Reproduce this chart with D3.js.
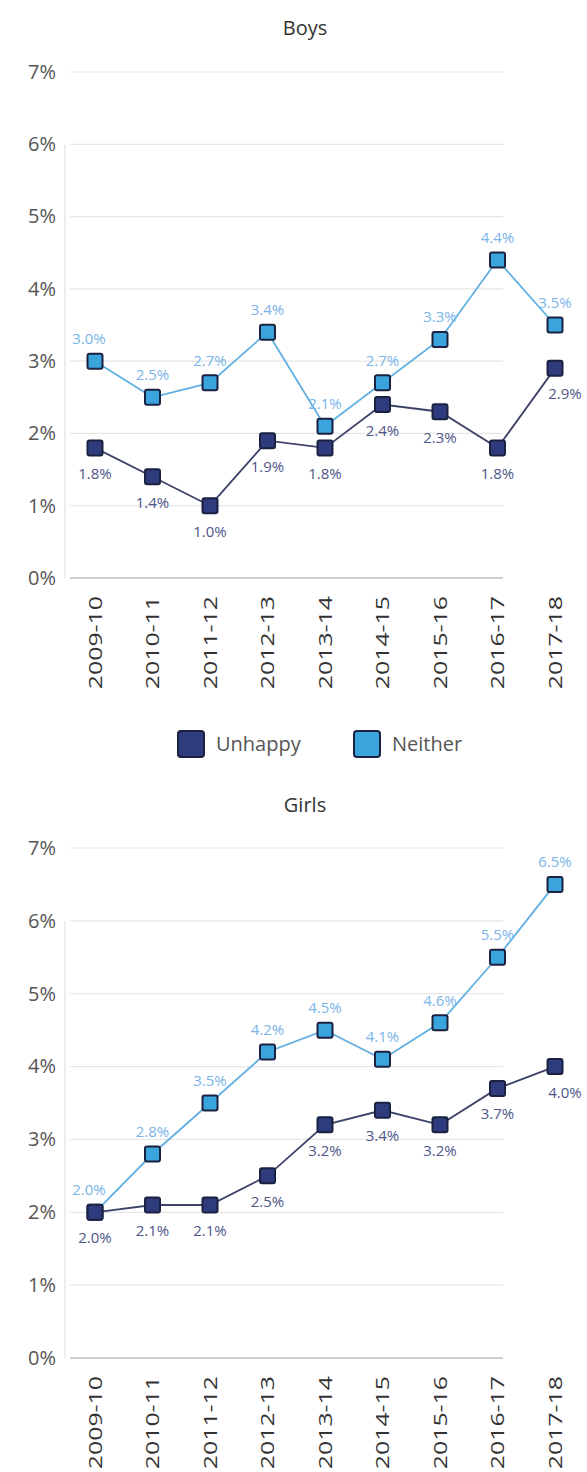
<!DOCTYPE html>
<html>
<head>
<meta charset="utf-8">
<script src="https://cdn.jsdelivr.net/npm/d3@7"></script>
<style>
  body { margin: 0; background: #fff; }
  text { font-family: "Open Sans", Lato, sans-serif; }
</style>
</head>
<body>
<div class="svg"></div>
<script>
const years = ["2009-10","2010-11","2011-12","2012-13","2013-14","2014-15","2015-16","2016-17","2017-18"];
const yTicks = [0,1,2,3,4,5,6,7];
const boysUnhappy = [1.8,1.4,1.0,1.9,1.8,2.4,2.3,1.8,2.9];
const boysNeither = [3.0,2.5,2.7,3.4,2.1,2.7,3.3,4.4,3.5];
const girlsUnhappy = [2.0,2.1,2.1,2.5,3.2,3.4,3.2,3.7,4.0];
const girlsNeither = [2.0,2.8,3.5,4.2,4.5,4.1,4.6,5.5,6.5];
const seriesNames = ["Unhappy","Neither"];

const w = 587;
const h = 1472;
const unhappyFill = "#2e3b7c";
const neitherFill = "#3aa5dc";
const unhappyLine = "#3d4268";
const neitherLine = "#62b0e2";
const unhappyText = "#4e5688";
const neitherText = "#7ab4e8";
const font = "'Open Sans', sans-serif";

let svg = d3.select(".svg").append("svg")
  .attr("width", w)
  .attr("height", h);

let xScale = d3.scalePoint().domain(years).range([95, 555]);

let drawPanel = (title, titleY, top, bottom, unhappy, neither) => {
  let g = svg.append("g");
  let yScale = d3.scaleLinear().domain([0, 7]).range([bottom, top]);

  g.append("text").text(title)
    .attr("x", 305).attr("y", titleY)
    .attr("text-anchor", "middle")
    .attr("font-size", 20).attr("fill", "#333");

  // gridlines
  g.selectAll(".grid").data(yTicks).enter().append("line")
    .attr("x1", 70).attr("x2", 503)
    .attr("y1", d => yScale(d)).attr("y2", d => yScale(d))
    .attr("stroke", d => d == 0 ? "#cfcfcf" : "#e6e6e6")
    .attr("stroke-width", d => d == 0 ? 2 : 1.2);

  g.append("line")
    .attr("x1", 65).attr("x2", 65)
    .attr("y1", yScale(6)).attr("y2", yScale(0))
    .attr("stroke", "#e8e8e8").attr("stroke-width", 1.5);

  // y axis labels
  const yAxis = d3.axisLeft(yScale).tickValues(yTicks).tickSize(0).tickPadding(0)
    .tickFormat(d => d + "%");
  let ya = g.append("g").attr("transform", "translate(56,0)").call(yAxis);
  ya.select(".domain").remove();
  ya.selectAll("text").attr("font-size", 20).attr("fill", "#555")
    .attr("font-family", font);

  // x axis labels, drawn tall like the source image
  const xAxis = d3.axisBottom(xScale).tickSize(0).tickPadding(0);
  let xa = g.append("g").attr("transform", "translate(0," + (bottom + 18) + ")").call(xAxis);
  xa.select(".domain").remove();
  xa.selectAll("text")
    .attr("transform", "rotate(-90) scale(1.38,1)")
    .attr("text-anchor", "end")
    .attr("x", 0).attr("y", 0).attr("dy", "0.35em")
    .attr("font-size", 18).attr("fill", "#333")
    .attr("font-family", font);

  let line = d3.line().x((d, i) => xScale(years[i])).y(d => yScale(d));

  [[neither, neitherLine], [unhappy, unhappyLine]].forEach(([vals, col]) => {
    g.append("path").datum(vals)
      .attr("d", line).attr("fill", "none")
      .attr("stroke", col).attr("stroke-width", 1.8);
  });

  let drawMarks = (vals, fill, txtCol, above) => {
    g.selectAll(null).data(vals).enter().append("rect")
      .attr("x", (d, i) => xScale(years[i]) - 7.5)
      .attr("y", d => yScale(d) - 7.5)
      .attr("width", 15).attr("height", 15).attr("rx", 2)
      .attr("fill", fill).attr("stroke", "#1b2140").attr("stroke-width", 2);
    g.selectAll(null).data(vals).enter().append("text")
      .text(d => d.toFixed(1) + "%")
      .attr("x", (d, i) => xScale(years[i]) + (i == vals.length - 1 && !above ? 10 : 0) - (i == 0 && above ? 6 : 0))
      .attr("y", d => yScale(d) + (above ? -17 : 31))
      .attr("text-anchor", "middle")
      .attr("font-size", 15).attr("fill", txtCol);
  };
  drawMarks(neither, neitherFill, neitherText, true);
  drawMarks(unhappy, unhappyFill, unhappyText, false);
};

drawPanel("Boys", 35, 72, 578, boysUnhappy, boysNeither);
drawPanel("Girls", 812, 848, 1358, girlsUnhappy, girlsNeither);

// legend
let legend = svg.append("g").attr("id", "legend");
let legendX = [178, 354];
let legendFill = [unhappyFill, neitherFill];
seriesNames.forEach((name, i) => {
  legend.append("rect")
    .attr("x", legendX[i]).attr("y", 731)
    .attr("width", 26).attr("height", 26).attr("rx", 3)
    .attr("fill", legendFill[i]).attr("stroke", "#1b2140").attr("stroke-width", 2);
  legend.append("text").text(name)
    .attr("x", legendX[i] + 38).attr("y", 751)
    .attr("font-size", 20).attr("fill", "#555");
});
</script>
</body>
</html>
